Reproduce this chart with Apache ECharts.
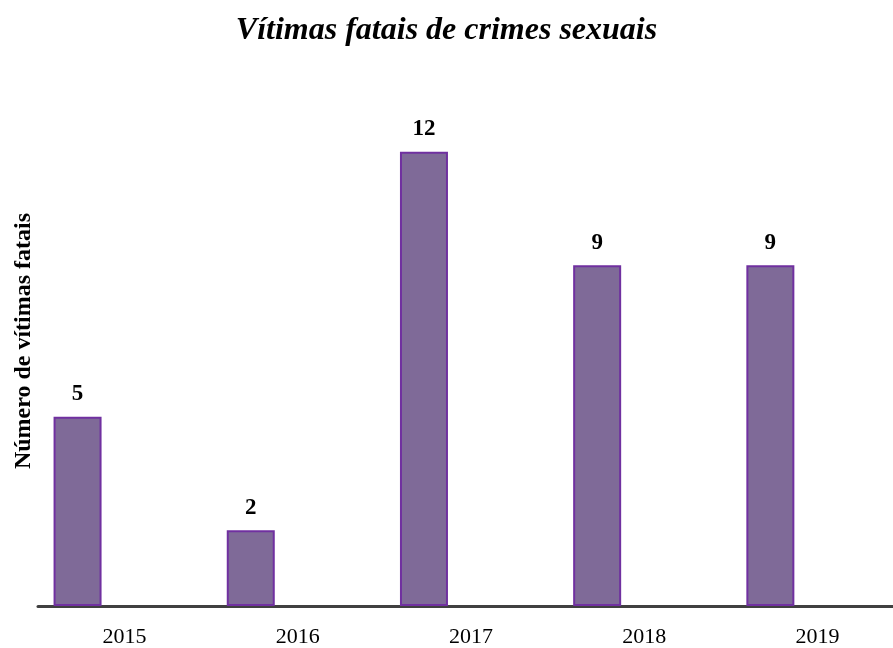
<!DOCTYPE html>
<html lang="pt">
<head>
    <meta charset="UTF-8">
    <script src="https://cdn.jsdelivr.net/npm/echarts@6/dist/echarts.min.js"></script>
    <title>Vítimas fatais de crimes sexuais</title>
    <style>
        body { margin: 0; background: #fff; }
    </style>
</head>
<body>
<div id="main" style="width: 893px;height:648px;"></div>

<script>
    var years = ['2015', '2016', '2017', '2018', '2019'];
    var victims = [5, 2, 12, 9, 9];
    // empty second series keeps the bars shifted left in each band, as in the original
    var emptySlot = [null, null, null, null, null];

    var serif = '"Liberation Serif", "DejaVu Serif", serif';

    var chartDom = document.getElementById('main');
    var myChart = echarts.init(chartDom);
    var option = {
        animation: false,
        title: {
            text: 'Vítimas fatais de crimes sexuais',
            left: 'center',
            top: 10,
            textStyle: {
                fontFamily: serif,
                fontSize: 32,
                fontWeight: 'bold',
                fontStyle: 'italic',
                color: '#000'
            }
        },
        grid: {
            left: 38,
            width: 866,
            top: 76,
            bottom: 42,
            outerBoundsMode: 'none',
            containLabel: false
        },
        xAxis: {
            type: 'category',
            data: years,
            axisLine: { lineStyle: { color: '#404040', width: 3 } },
            axisTick: { show: false },
            axisLabel: {
                fontFamily: serif,
                fontSize: 22,
                color: '#000',
                margin: 20
            }
        },
        yAxis: {
            type: 'value',
            min: 0,
            max: 14,
            name: 'Número de vítimas fatais',
            nameLocation: 'middle',
            nameGap: 2,
            nameTextStyle: {
                fontFamily: serif,
                fontSize: 24,
                fontWeight: 'bold',
                color: '#000'
            },
            axisLine: { show: false },
            axisTick: { show: false },
            axisLabel: { show: false },
            splitLine: { show: false }
        },
        series: [
            {
                name: 'Vítimas',
                type: 'bar',
                data: victims,
                barWidth: 48,
                barGap: '96%',
                itemStyle: {
                    color: '#7F6A98',
                    borderColor: '#7030A0',
                    borderWidth: 2
                },
                label: {
                    show: true,
                    position: 'top',
                    distance: 11,
                    fontFamily: serif,
                    fontSize: 23,
                    fontWeight: 'bold',
                    color: '#000'
                }
            },
            {
                name: 'vazio',
                type: 'bar',
                data: emptySlot,
                barWidth: 48
            }
        ]
    };
    myChart.setOption(option);
</script>
</body>
</html>
